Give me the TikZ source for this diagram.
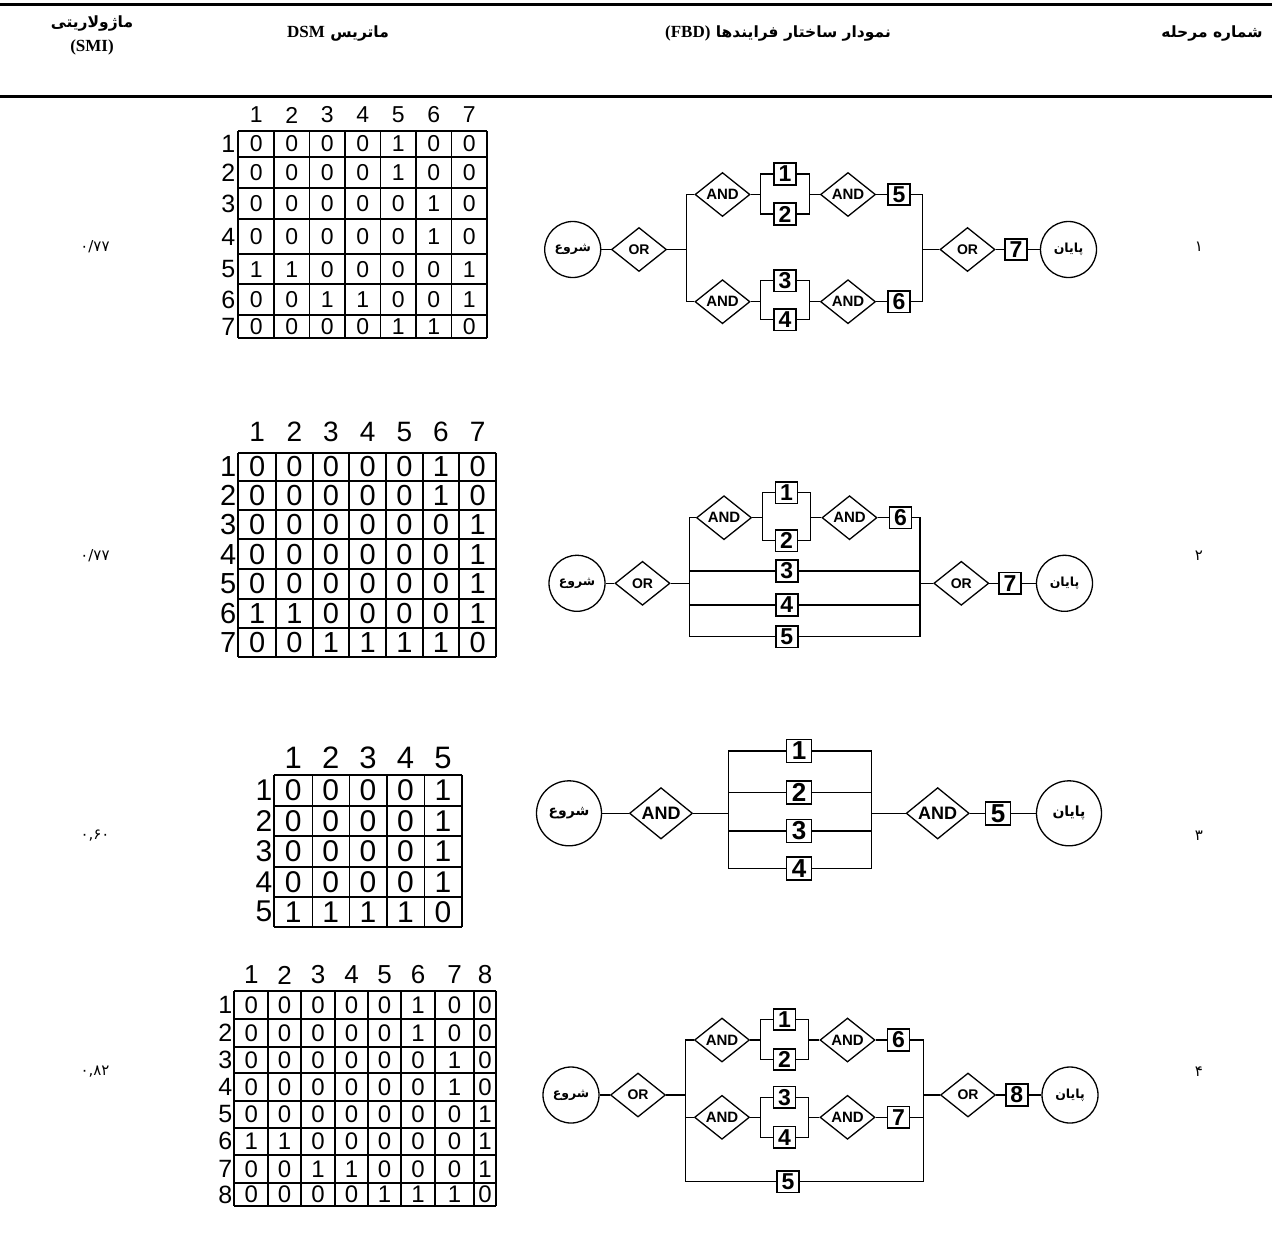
\documentclass[tikz,border=0pt]{standalone}
\usepackage{fontspec}
\setmainfont{Liberation Sans}
\newfontfamily\arfont[Script=Arabic]{DejaVu Sans}
\newfontfamily\serifb{Liberation Serif}
\TeXXeTstate=1
\usetikzlibrary{shapes.geometric}
\newcommand\fs[1]{\fontsize{#1}{#1}\selectfont}
\newcommand\andblock[8]{%
 \node[gate] (#1A) at (#2,#3) {AND};
 \coordinate (#1pm) at ({#2+38.2},{#3});
 \node[bx] (#1a) at ({#2+62.5},{#3-#4}) {#6};
 \node[bx] (#1b) at ({#2+62.5},{#3+#5}) {#7};
 \coordinate (#1qm) at ({#2+86.8},{#3});
 \node[gate] (#1B) at ({#2+125.5},{#3}) {AND};
 \node[bx] (#1o) at ({#2+176.5},{#3}) {#8};
 \draw[ln] (#1A) -- (#1pm);
 \draw[ln] (#1a) -| (#1pm) |- (#1b);
 \draw[ln] (#1a) -| (#1qm) |- (#1b);
 \draw[ln] (#1qm) -- (#1B) -- (#1o);
}
% matrix body: #1 id, #2 rows data, #3 label x, #4 header y, #5 label font, #6 header font, #7 cell font
\newcommand\dsmbody[7]{%
\foreach \r [count=\i from 0] in {#2} {
  \pgfmathtruncatemacro\ip{\i+1}
  \pgfmathsetmacro\ta{\ya[\i]}
  \pgfmathsetmacro\tb{\ya[\ip]}
  \pgfmathsetmacro\tc{\xa[\i]}
  \pgfmathsetmacro\td{\xa[\ip]}
  \pgfmathsetmacro\cy{(\ta+\tb)/2}
  \pgfmathsetmacro\hx{(\tc+\td)/2}
  \node[inner sep=0pt, anchor=east, font=\fs{#5}] (#1-r\ip) at (#3,\cy) {\ip};
  \node[inner sep=0pt, font=\fs{#6}] (#1-c\ip) at (\hx,#4) {\ip};
  \foreach \v [count=\j from 0] in \r {
    \pgfmathtruncatemacro\jp{\j+1}
    \pgfmathsetmacro\te{\xa[\j]}
    \pgfmathsetmacro\tf{\xa[\jp]}
    \pgfmathsetmacro\cx{(\te+\tf)/2}
    \node[inner sep=0pt, font=\fs{#7}] (#1-\i-\j) at (\cx,\cy) {\v};
  }
}}
\begin{document}
\begin{tikzpicture}[x=1pt,y=-1pt,
 ln/.style={line width=1.3pt},
 mline/.style={line width=1.9pt},
 bx/.style={draw, line width=1.7pt, inner sep=0pt, minimum width=22pt, minimum height=21.5pt, font={\fs{23}\bfseries}},
 bxb/.style={draw, line width=1.7pt, inner sep=0pt, minimum width=25pt, minimum height=23pt, font={\fs{26}\bfseries}},
 gate/.style={draw, diamond, line width=1.3pt, inner sep=0pt, minimum width=55pt, minimum height=44pt, font={\fs{15}\bfseries}},
 gateb/.style={draw, diamond, line width=1.3pt, inner sep=0pt, minimum width=63pt, minimum height=50pt, font={\fs{18}\bfseries}},
 orf/.style={font={\fs{14}\bfseries}},
 startc/.style={draw, circle, line width=1.3pt, inner sep=0pt, minimum size=56pt, font={\arfont\fs{12.5}\bfseries}},
 startcb/.style={draw, circle, line width=1.3pt, inner sep=0pt, minimum size=65pt, font={\arfont\fs{14}\bfseries}},
 hdr/.style={inner sep=0pt, font={\arfont\fs{15.5}\bfseries}},
 hlat/.style={inner sep=0pt, font={\serifb\fs{17}\bfseries}},
 val/.style={inner sep=0pt, font={\arfont\fs{15}}}
]
\useasboundingbox (0,0) rectangle (1272,1259);
\fill[white] (0,0) rectangle (1272,1259);
% header rules
\draw[line width=3.5pt] (0,4.5) -- (1272,4.5);
\draw[line width=3.5pt] (0,96.5) -- (1272,96.5);
% headers
\node[hdr] (hsmi) at (92,23) {\beginR ماژولاریتی\endR};
\node[hlat] (hsmib) at (92,47) {(SMI)};
\node[hdr] (hdsm) at (338,33) {\beginR ماتریس \beginL{\serifb\fs{17}\bfseries DSM}\endL\endR};
\node[hdr] (hfbd) at (778,33) {\beginR نمودار ساختار فرایندها \beginL{\serifb\fs{17}\bfseries (FBD)}\endL\endR};
\node[hdr] (hstep) at (1212,33) {\beginR شماره مرحله\endR};
% values and step numbers
\node[val] (v1) at (95,247) {۰/۷۷};
\node[val] (v2) at (95,556) {۰/۷۷};
\node[val] (v3) at (95,836) {۰,۶۰};
\node[val] (v4) at (95,1072) {۰,۸۲};
\node[val] (n1) at (1199,247) {۱};
\node[val] (n2) at (1199,556) {۲};
\node[val] (n3) at (1199,836) {۳};
\node[val] (n4) at (1199,1072) {۴};
% ---------- Matrix 1
\def\xa{{238.3,274,309.5,345,380.5,416,451.5,487}}
\def\ya{{131,156.7,188.3,219.3,254,284.3,315,338}}
\foreach \xx in {238.3,274,309.5,345,380.5,416,451.5,487} {\draw[mline] (\xx,131) -- (\xx,338);}
\foreach \yy in {131,156.7,188.3,219.3,254,284.3,315,338} {\draw[mline] (238.3,\yy) -- (487,\yy);}
\dsmbody{ma}{{0,0,0,0,1,0,0},{0,0,0,0,1,0,0},{0,0,0,0,0,1,0},{0,0,0,0,0,1,0},{1,1,0,0,0,0,1},{0,0,1,1,0,0,1},{0,0,0,0,1,1,0}}{235.5}{115}{25}{23}{23}
% ---------- Matrix 2
\def\xa{{238.3,276,312.7,349.3,386,422.7,459.3,496}}
\def\ya{{452.7,481,510,539.3,569,598.7,628.3,657.3}}
\foreach \xx in {238.3,276,312.7,349.3,386,422.7,459.3,496} {\draw[mline] (\xx,452.7) -- (\xx,657.3);}
\foreach \yy in {452.7,481,510,539.3,569,598.7,628.3,657.3} {\draw[mline] (238.3,\yy) -- (496,\yy);}
\dsmbody{mb}{{0,0,0,0,0,1,0},{0,0,0,0,0,1,0},{0,0,0,0,0,0,1},{0,0,0,0,0,0,1},{0,0,0,0,0,0,1},{1,1,0,0,0,0,1},{0,0,1,1,1,1,0}}{236.5}{432}{29}{28}{29}
% ---------- Matrix 3
\def\xa{{274,312.3,349.3,386.7,424.3,461.7}}
\def\ya{{775,805.7,836,866.7,896.7,926.7}}
\foreach \xx in {274,312.3,349.3,386.7,424.3,461.7} {\draw[line width=1.6pt] (\xx,775) -- (\xx,926.7);}
\foreach \yy in {775,805.7,836,866.7,896.7,926.7} {\draw[line width=1.6pt] (274,\yy) -- (461.7,\yy);}
\dsmbody{mc}{{0,0,0,0,1},{0,0,0,0,1},{0,0,0,0,1},{0,0,0,0,1},{1,1,1,1,0}}{272.5}{758}{30}{31}{30}
% ---------- Matrix 4
\def\xa{{234.3,268.3,301,335,368.3,401,435,474,496}}
\def\ya{{991,1019,1046.7,1073.3,1100.7,1127.7,1155,1183.3,1205.7}}
\foreach \xx in {234.3,268.3,301,335,368.3,401,435,474,496} {\draw[mline] (\xx,991) -- (\xx,1205.7);}
\foreach \yy in {991,1019,1046.7,1073.3,1100.7,1127.7,1155,1183.3,1205.7} {\draw[mline] (234.3,\yy) -- (496,\yy);}
\dsmbody{md}{{0,0,0,0,0,1,0,0},{0,0,0,0,0,1,0,0},{0,0,0,0,0,0,1,0},{0,0,0,0,0,0,1,0},{0,0,0,0,0,0,0,1},{1,1,0,0,0,0,0,1},{0,0,1,1,0,0,0,1},{0,0,0,0,1,1,1,0}}{232.5}{975}{25}{26}{24}
% ---------- FBD row 1
\node[startc] (s1) at (572.7,249.5) {\beginR شروع\endR};
\node[gate, orf] (g1) at (639,249.5) {OR};
\coordinate (L1) at (686.7,249.5);
\andblock{t1}{722.5}{194.5}{20.5}{19.5}{1}{2}{5}
\andblock{u1}{722.5}{301.7}{21}{18}{3}{4}{6}
\coordinate (R1) at (922.7,249.5);
\node[gate, orf] (h1) at (967.5,249.5) {OR};
\node[bx] (f1) at (1016,249.5) {7};
\node[startc] (e1) at (1068.5,249.5) {\beginR پایان\endR};
\draw[ln] (s1) -- (g1) -- (L1);
\draw[ln] (t1A) -| (L1) |- (u1A);
\draw[ln] (t1o) -| (R1) |- (u1o);
\draw[ln] (R1) -- (h1) -- (f1) -- (e1);
% ---------- FBD row 2
\node[startc] (s2) at (577,583.3) {\beginR شروع\endR};
\node[gate, orf] (g2) at (642.5,583.3) {OR};
\coordinate (L2) at (689.3,583.3);
\andblock{t2}{724}{517.7}{25}{23}{1}{2}{6}
\node[bx] (k23) at (786.7,571) {3};
\node[bx] (k24) at (786.7,605) {4};
\node[bx] (k25) at (786.7,636.7) {5};
\coordinate (R2) at (920,583.3);
\coordinate (L2a) at (689.3,571);
\coordinate (R2a) at (920,571);
\coordinate (L2b) at (689.3,605);
\coordinate (R2b) at (920,605);
\node[gate, orf] (h2) at (961.3,583.3) {OR};
\node[bx] (f2) at (1010,583.3) {7};
\node[startc] (e2) at (1064.5,583.3) {\beginR پایان\endR};
\draw[ln] (s2) -- (g2) -- (L2);
\draw[ln] (t2A) -| (L2) |- (k25);
\draw[ln] (t2o) -| (R2) |- (k25);
\draw[ln] (L2a) -- (k23) -- (R2a);
\draw[ln] (L2b) -- (k24) -- (R2b);
\draw[ln] (R2) -- (h2) -- (f2) -- (e2);
% ---------- FBD row 3
\node[startcb] (s3) at (569,813.3) {\beginR شروع\endR};
\node[gateb] (g3) at (661,813.3) {AND};
\coordinate (L3) at (728.3,813.3);
\node[bxb] (k31) at (799,751) {1};
\node[bxb] (k32) at (799,792.3) {2};
\node[bxb] (k33) at (799,831) {3};
\node[bxb] (k34) at (799,868.3) {4};
\coordinate (R3) at (871.7,813.3);
\coordinate (L3b) at (728.3,792.3);
\coordinate (R3b) at (871.7,792.3);
\coordinate (L3c) at (728.3,831);
\coordinate (R3c) at (871.7,831);
\node[gateb] (h3) at (937.7,813.3) {AND};
\node[bxb] (f3) at (998,813.3) {5};
\node[startcb] (e3) at (1069,813.3) {\beginR پایان\endR};
\draw[ln] (s3) -- (g3) -- (L3);
\draw[ln] (k31) -| (L3) |- (k34);
\draw[ln] (k31) -| (R3) |- (k34);
\draw[ln] (L3b) -- (k32) -- (R3b);
\draw[ln] (L3c) -- (k33) -- (R3c);
\draw[ln] (R3) -- (h3) -- (f3) -- (e3);
% ---------- FBD row 4
\node[startc] (s4) at (571,1095) {\beginR شروع\endR};
\node[gate, orf] (g4) at (638,1095) {OR};
\coordinate (L4) at (685.7,1095);
\andblock{t4}{722}{1040}{20.5}{19.5}{1}{2}{6}
\andblock{u4}{722}{1117.3}{20}{20}{3}{4}{7}
\node[bx] (k45) at (788,1181.7) {5};
\coordinate (R4) at (923.3,1095);
\coordinate (L4c) at (685.7,1117.3);
\coordinate (R4c) at (923.3,1117.3);
\node[gate, orf] (h4) at (968,1095) {OR};
\node[bx] (f4) at (1016.7,1095) {8};
\node[startc] (e4) at (1070,1095) {\beginR پایان\endR};
\draw[ln] (s4) -- (g4) -- (L4);
\draw[ln] (t4A) -| (L4) |- (k45);
\draw[ln] (t4o) -| (R4) |- (k45);
\draw[ln] (L4c) -- (u4A);
\draw[ln] (u4o) -- (R4c);
\draw[ln] (R4) -- (h4) -- (f4) -- (e4);
\end{tikzpicture}
\end{document}
